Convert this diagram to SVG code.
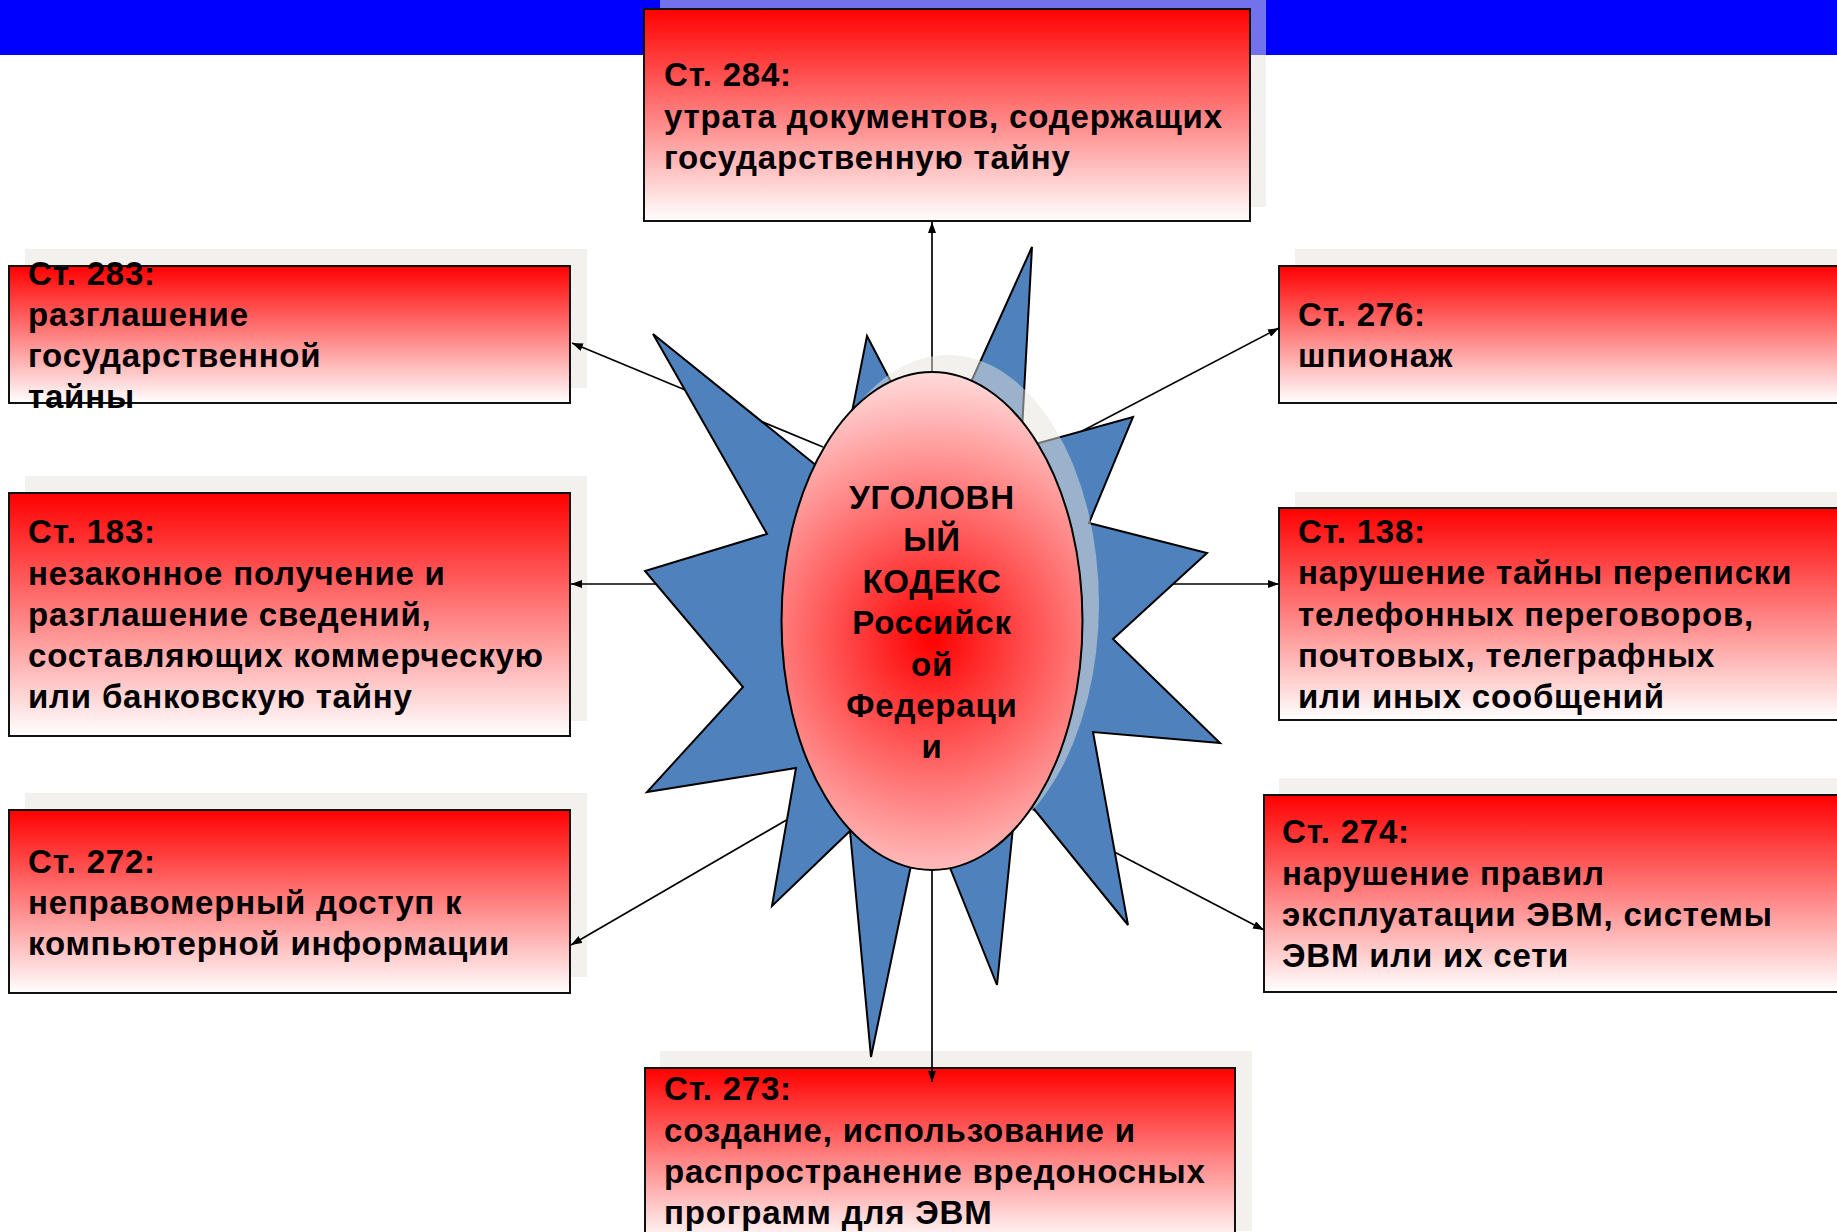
<svg xmlns="http://www.w3.org/2000/svg" width="1837" height="1232" viewBox="0 0 1837 1232">
<defs>
<linearGradient id="boxGrad" x1="0" y1="0" x2="0" y2="1">
<stop offset="0" stop-color="#ff0000"/>
<stop offset="1" stop-color="#ffffff"/>
</linearGradient>
<radialGradient id="ellGrad" gradientUnits="userSpaceOnUse" cx="932" cy="640" r="265">
<stop offset="0" stop-color="#ff0000"/>
<stop offset="1" stop-color="#ffd8d8"/>
</radialGradient>
<marker id="arr" markerUnits="userSpaceOnUse" markerWidth="11" markerHeight="8" refX="11" refY="4" orient="auto">
<path d="M0,0 L11,4 L0,8 z" fill="#000"/>
</marker>
<style>
.shadow{fill:#e6e4dc;opacity:0.5}
.box{fill:url(#boxGrad);stroke:#111;stroke-width:2}
.t{font-family:"Liberation Sans",Arial,sans-serif;font-weight:bold;font-size:33px;letter-spacing:0.8px;fill:#000}
.c{text-anchor:middle}
.conn{stroke:#000;stroke-width:1.7;fill:none;marker-end:url(#arr)}
</style>
</defs>
<rect x="0" y="0" width="1837" height="55" fill="#0000ff"/>

<g id="shadows">
<rect class="shadow" x="660" y="-8" width="606" height="215"/>
<rect class="shadow" x="25" y="249" width="562" height="139"/>
<rect class="shadow" x="25" y="476" width="562" height="245"/>
<rect class="shadow" x="25" y="793" width="562" height="184"/>
<rect class="shadow" x="1295" y="249" width="562" height="139"/>
<rect class="shadow" x="1295" y="492" width="562" height="212"/>
<rect class="shadow" x="1279" y="778" width="577" height="198"/>
<rect class="shadow" x="660" y="1051" width="592" height="180"/>
</g>

<g id="node-284">
<rect class="box" x="644" y="9" width="606" height="212"/>
<text class="t" x="664" y="86">Ст. 284:</text>
<text class="t" x="664" y="128">утрата документов, содержащих</text>
<text class="t" x="664" y="169">государственную тайну</text>
</g>
<g id="node-283">
<rect class="box" x="9" y="266" width="561" height="137"/>
<text class="t" x="28" y="285">Ст. 283:</text>
<text class="t" x="28" y="326">разглашение</text>
<text class="t" x="28" y="367">государственной</text>
<text class="t" x="28" y="408">тайны</text>
</g>
<g id="node-183">
<rect class="box" x="9" y="493" width="561" height="243"/>
<text class="t" x="28" y="543">Ст. 183:</text>
<text class="t" x="28" y="585">незаконное получение и</text>
<text class="t" x="28" y="626">разглашение сведений,</text>
<text class="t" x="28" y="667">составляющих коммерческую</text>
<text class="t" x="28" y="708">или банковскую тайну</text>
</g>
<g id="node-272">
<rect class="box" x="9" y="810" width="561" height="183"/>
<text class="t" x="28" y="873">Ст. 272:</text>
<text class="t" x="28" y="914">неправомерный доступ к</text>
<text class="t" x="28" y="955">компьютерной информации</text>
</g>
<g id="node-276">
<rect class="box" x="1279" y="266" width="562" height="137"/>
<text class="t" x="1298" y="326">Ст. 276:</text>
<text class="t" x="1298" y="367">шпионаж</text>
</g>
<g id="node-138">
<rect class="box" x="1279" y="508" width="562" height="212"/>
<text class="t" x="1298" y="543">Ст. 138:</text>
<text class="t" x="1298" y="584">нарушение тайны переписки</text>
<text class="t" x="1298" y="626">телефонных переговоров,</text>
<text class="t" x="1298" y="667">почтовых, телеграфных</text>
<text class="t" x="1298" y="708">или иных сообщений</text>
</g>
<g id="node-274">
<rect class="box" x="1264" y="795" width="577" height="197"/>
<text class="t" x="1282" y="843">Ст. 274:</text>
<text class="t" x="1282" y="885">нарушение правил</text>
<text class="t" x="1282" y="926">эксплуатации ЭВМ, системы</text>
<text class="t" x="1282" y="967">ЭВМ или их сети</text>
</g>
<g id="node-273">
<rect class="box" x="645" y="1068" width="590" height="176"/>
<text class="t" x="664" y="1100">Ст. 273:</text>
<text class="t" x="664" y="1142">создание, использование и</text>
<text class="t" x="664" y="1183">распространение вредоносных</text>
<text class="t" x="664" y="1224">программ для ЭВМ</text>
</g>

<g id="connectors">
<line class="conn" x1="932" y1="372" x2="932" y2="222"/>
<line class="conn" x1="823" y1="447" x2="572" y2="343"/>
<line class="conn" x1="783" y1="584" x2="571" y2="584"/>
<line class="conn" x1="826" y1="797" x2="571" y2="945"/>
<line class="conn" x1="1042" y1="452" x2="1279" y2="328"/>
<line class="conn" x1="1081" y1="584" x2="1279" y2="584"/>
<line class="conn" x1="1030" y1="808" x2="1264" y2="930"/>
<line class="conn" x1="932" y1="870" x2="932" y2="1082"/>
</g>

<g id="center">
<polygon points="867,336 934,464 1032,247 1021,448 1133,417 1089,523 1207,553 1113,639 1220,743 1093,732 1128,925 1017,788 997,985 924,803 871,1057 850,831 772,906 796,768 647,792 743,687 645,571 767,534 653,334 838,483" fill="#4f81bd" stroke="#000" stroke-width="2" stroke-linejoin="miter"/>
<ellipse class="shadow" cx="948" cy="604" rx="151" ry="249"/>
<ellipse cx="932" cy="621" rx="150.5" ry="249" fill="url(#ellGrad)" stroke="#000" stroke-width="2"/>
<text class="t c" x="932" y="509">УГОЛОВН</text>
<text class="t c" x="932" y="551">ЫЙ</text>
<text class="t c" x="932" y="593">КОДЕКС</text>
<text class="t c" x="932" y="634">Российск</text>
<text class="t c" x="932" y="676">ой</text>
<text class="t c" x="932" y="717">Федераци</text>
<text class="t c" x="932" y="758">и</text>
</g>
</svg>
